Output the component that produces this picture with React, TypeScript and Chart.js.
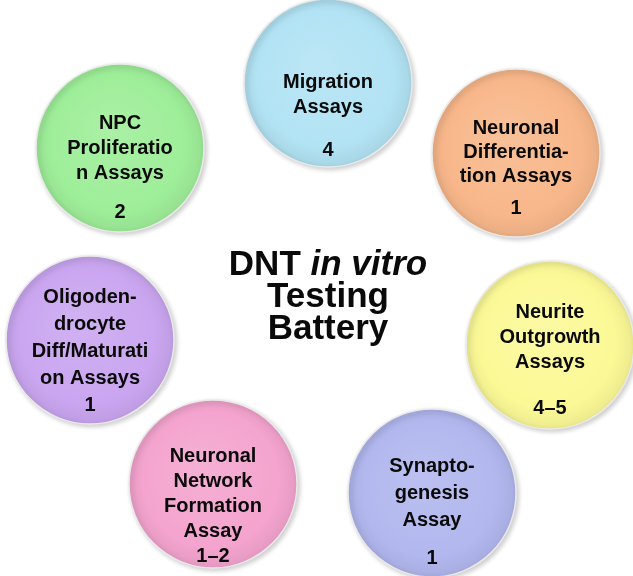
import React, { useEffect, useRef } from "react";
import { Chart, registerables } from "chart.js";

Chart.register(...registerables);

// ---- data ----
const assayNames: string[][] = [
  ["Migration", "Assays"],
  ["NPC", "Proliferatio", "n Assays"],
  ["Neuronal", "Differentia-", "tion Assays"],
  ["Neurite", "Outgrowth", "Assays"],
  ["Synapto-", "genesis", "Assay"],
  ["Neuronal", "Network", "Formation", "Assay"],
  ["Oligoden-", "drocyte", "Diff/Maturati", "on Assays"],
];
const assayCounts: string[] = ["4", "2", "1", "4–5", "1", "1–2", "1"];
const titleRegular = "DNT ";
const titleItalic = "in vitro";
const titleLines: string[] = ["Testing", "Battery"];

// ---- layout (diagram coordinates, in page pixels) ----
const circleX: number[] = [328, 120, 516, 550, 432, 213, 90];
const circleY: number[] = [83, 148, 153, 345, 493, 484, 340];
const circleR: number[] = [84, 84, 84, 84, 84, 84, 84];
const textTop: number[] = [-1, -25, -25, -33, -27, -28, -43];
const lineGap: number[] = [25, 25, 24, 25, 27, 25, 27];
const countOffset: number[] = [67, 64, 55, 63, 65, 72, 65];
const titleAnchor = { x: 328, y: 265 };
const titleGap = 32;

// ---- styles ----
const fillColors: string[] = [
  "#b2e3f4",
  "#9eee99",
  "#f8b78a",
  "#fbf996",
  "#b2b7ee",
  "#f4a4ce",
  "#caa6f0",
];
const FONT = '"Liberation Sans", Arial, sans-serif';

function hexToRgb(h: string) {
  const n = parseInt(h.slice(1), 16);
  return [(n >> 16) & 255, (n >> 8) & 255, n & 255];
}
function mix(h: string, t: number, target: number) {
  const [r, g, b] = hexToRgb(h);
  const f = (c: number) => Math.round(c + (target - c) * t);
  return `rgb(${f(r)},${f(g)},${f(b)})`;
}

const labelPlugin = {
  id: "circleLabels",
  beforeDatasetDraw(chart: any) {
    const ctx = chart.ctx;
    ctx.save();
    ctx.shadowColor = "rgba(0,0,0,0.2)";
    ctx.shadowBlur = 5;
    ctx.shadowOffsetX = 2;
    ctx.shadowOffsetY = 2;
  },
  afterDatasetDraw(chart: any) {
    chart.ctx.restore();
  },
  afterDatasetsDraw(chart: any) {
    const ctx = chart.ctx;
    const meta = chart.getDatasetMeta(0);
    ctx.save();
    ctx.fillStyle = "#0a0a0a";
    ctx.textAlign = "center";
    ctx.textBaseline = "middle";
    ctx.font = `bold 20px ${FONT}`;
    meta.data.forEach((el: any, i: number) => {
      const lines = assayNames[i];
      lines.forEach((ln, k) => {
        ctx.fillText(ln, el.x, el.y + textTop[i] + k * lineGap[i]);
      });
      ctx.fillText(assayCounts[i], el.x, el.y + countOffset[i]);
    });
    // central title
    const xs = chart.scales.x;
    const ys = chart.scales.y;
    const cx = xs.getPixelForValue(titleAnchor.x);
    const cy = ys.getPixelForValue(titleAnchor.y);
    const fReg = `bold 35px ${FONT}`;
    const fIt = `italic bold 35px ${FONT}`;
    ctx.font = fReg;
    const w1 = ctx.measureText(titleRegular).width;
    ctx.font = fIt;
    const w2 = ctx.measureText(titleItalic).width;
    const left = cx - (w1 + w2) / 2;
    ctx.textAlign = "left";
    ctx.font = fReg;
    ctx.fillText(titleRegular, left, cy);
    ctx.font = fIt;
    ctx.fillText(titleItalic, left + w1, cy);
    ctx.textAlign = "center";
    ctx.font = fReg;
    titleLines.forEach((t, k) => ctx.fillText(t, cx, cy + (k + 1) * titleGap));
    ctx.restore();
  },
};

export default function App() {
  const ref = useRef<HTMLCanvasElement | null>(null);
  useEffect(() => {
    document.body.style.margin = "0";
    const canvas = ref.current!;
    const chart = new Chart(canvas, {
      type: "bubble",
      data: {
        datasets: [
          {
            data: circleX.map((x, i) => ({ x, y: circleY[i], r: circleR[i] })),
            backgroundColor: (c: any) => {
              const i = c.dataIndex;
              const base = fillColors[i ?? 0] || fillColors[0];
              if (i === undefined || !c.chart.scales || !c.chart.scales.x) return base;
              const px = c.chart.scales.x.getPixelForValue(circleX[i]);
              const py = c.chart.scales.y.getPixelForValue(circleY[i]);
              const r = circleR[i];
              if (!isFinite(px) || !isFinite(py)) return base;
              const g = c.chart.ctx.createRadialGradient(
                px - r * 0.15,
                py - r * 0.25,
                r * 0.05,
                px,
                py,
                r
              );
              g.addColorStop(0, mix(base, 0.12, 255));
              g.addColorStop(0.8, base);
              g.addColorStop(1, mix(base, 0.06, 0));
              return g;
            },
            borderColor: "rgba(235,235,235,0.95)",
            borderWidth: 1.5,
            hoverRadius: 0,
            clip: false,
          } as any,
        ],
      },
      options: {
        responsive: false,
        animation: false,
        events: [],
        layout: { padding: 0, autoPadding: false },
        plugins: { legend: { display: false }, tooltip: { enabled: false } },
        scales: {
          x: { type: "linear", min: 0, max: 633, display: false },
          y: { type: "linear", min: 0, max: 576, reverse: true, display: false },
        },
      } as any,
      plugins: [labelPlugin],
    });
    return () => chart.destroy();
  }, []);
  return (
    <div style={{ width: 633, height: 576, background: "#fff" }}>
      <canvas ref={ref} width={633} height={576} style={{ display: "block" }} />
    </div>
  );
}
